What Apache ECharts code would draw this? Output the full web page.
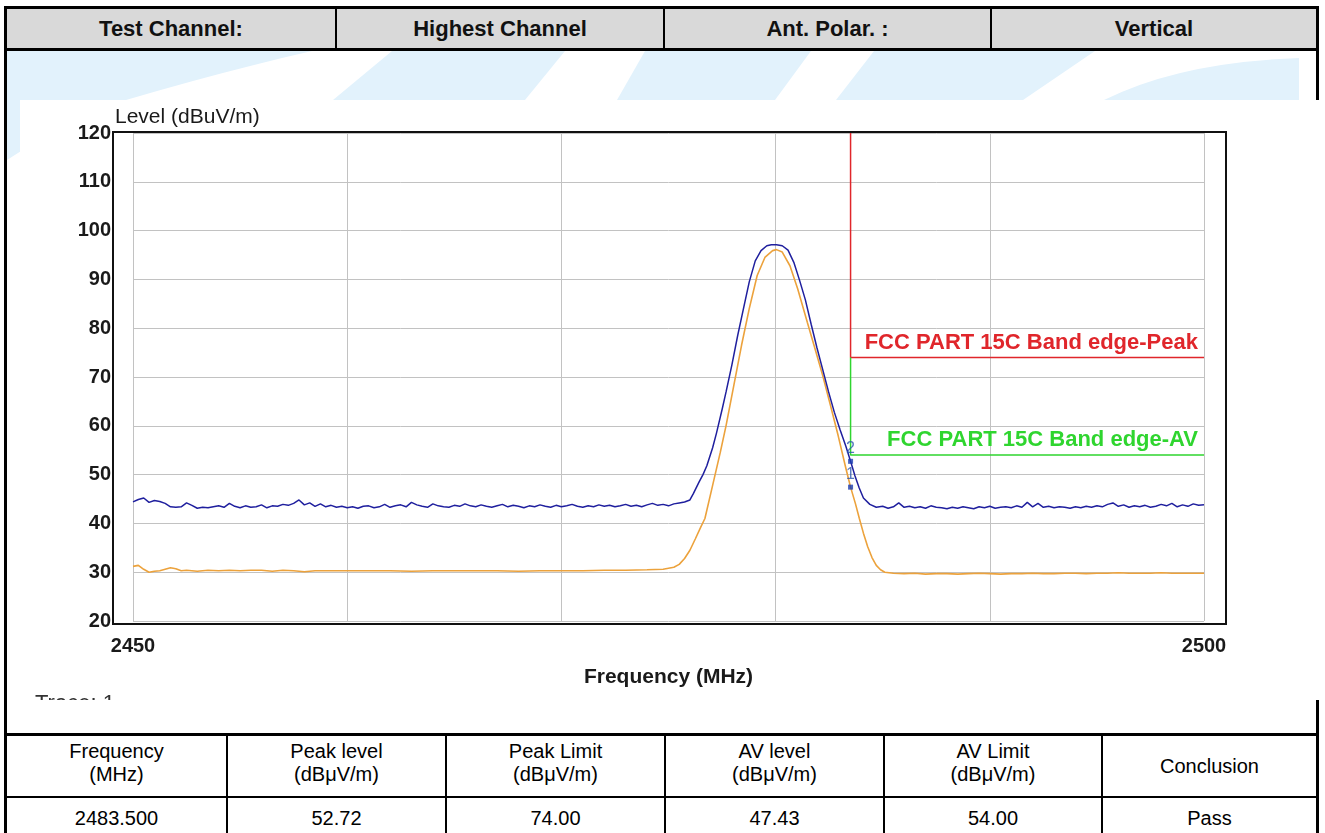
<!DOCTYPE html>
<html><head><meta charset="utf-8">
<script src="https://cdn.jsdelivr.net/npm/echarts@6/dist/echarts.min.js"></script>
<style>
html,body{margin:0;padding:0;background:#fff;}
body{width:1325px;height:833px;position:relative;overflow:hidden;font-family:"Liberation Sans",Arial,sans-serif;color:#000;}
.ln{position:absolute;background:#000;}
.hc{position:absolute;top:9px;height:39px;line-height:40px;text-align:center;font-weight:bold;font-size:22px;color:#111;}
.tc{position:absolute;text-align:center;font-size:20px;color:#000;}
#wm{position:absolute;left:0;top:0;}
#chart{position:absolute;left:20px;top:100px;width:1305px;height:600px;background:#fff;}
</style></head>
<body>
<svg id="wm" width="1325" height="833">
  <g fill="#e2f2fc">
    <path d="M7,51 L312,51 Q220,72 126,100 Q60,125 7,160 Z"/>
    <path d="M392,51 L565,51 L525,100 L333,100 Z"/>
    <path d="M645,51 L811,51 L775,100 L617,100 Z"/>
    <path d="M874,51 L1095,51 L1023,100 L836,100 Z"/>
    <path d="M1104,100 Q1180,62 1299,58 L1299,100 Z"/>
  </g>
</svg>
<div class="ln" style="left:4px;top:6px;width:1315px;height:3px"></div>
<div style="position:absolute;left:7px;top:9px;width:1309px;height:39px;background:#d9d9d9"></div>
<div class="ln" style="left:4px;top:48px;width:1315px;height:3px"></div>
<div class="ln" style="left:4px;top:6px;width:3px;height:827px"></div>
<div class="ln" style="left:1316px;top:6px;width:3px;height:827px"></div>
<div class="ln" style="left:335px;top:9px;width:2px;height:39px"></div>
<div class="ln" style="left:663px;top:9px;width:2px;height:39px"></div>
<div class="ln" style="left:990px;top:9px;width:2px;height:39px"></div>
<div id="hdr"></div>

<div id="chart"></div>

<div class="ln" style="left:4px;top:733px;width:1315px;height:3px"></div>
<div class="ln" style="left:4px;top:796px;width:1315px;height:2px"></div>
<div class="ln" style="left:226px;top:736px;width:2px;height:97px"></div>
<div class="ln" style="left:445px;top:736px;width:2px;height:97px"></div>
<div class="ln" style="left:664px;top:736px;width:2px;height:97px"></div>
<div class="ln" style="left:883px;top:736px;width:2px;height:97px"></div>
<div class="ln" style="left:1101px;top:736px;width:2px;height:97px"></div>
<div id="tbl"></div>

<script>
// ---------- data ----------
const xMin = 2450, xMax = 2500, xStep = 10;
const yMin = 20, yMax = 120, yStep = 10;
const xTickLabels = [2450, 2500];

const headerCells = ['Test Channel:', 'Highest Channel', 'Ant. Polar. :', 'Vertical'];
const resultHeads = [['Frequency','(MHz)'],['Peak level','(dBμV/m)'],['Peak Limit','(dBμV/m)'],['AV level','(dBμV/m)'],['AV Limit','(dBμV/m)'],['Conclusion']];
const resultRow = ['2483.500','52.72','74.00','47.43','54.00','Pass'];

const blueTrace = [
[2450.00,44.4],[2450.25,44.9],[2450.50,45.2],[2450.75,44.3],[2451.00,44.7],[2451.25,44.5],[2451.50,44.1],[2451.75,43.4],
[2452.00,43.3],[2452.25,43.4],[2452.50,44.2],[2452.75,43.7],[2453.00,43.1],[2453.25,43.3],[2453.50,43.2],[2453.75,43.4],
[2454.00,43.6],[2454.25,43.3],[2454.50,44.1],[2454.75,43.5],[2455.00,43.2],[2455.25,43.6],[2455.50,43.3],[2455.75,43.4],
[2456.00,43.8],[2456.25,43.2],[2456.50,43.6],[2456.75,43.5],[2457.00,43.9],[2457.25,43.7],[2457.50,44.1],[2457.75,44.8],
[2458.00,43.8],[2458.25,44.2],[2458.50,43.5],[2458.75,44.0],[2459.00,43.4],[2459.25,43.7],[2459.50,43.3],[2459.75,43.5],
[2460.00,43.2],[2460.25,43.4],[2460.50,43.1],[2460.75,43.5],[2461.00,43.6],[2461.25,43.2],[2461.50,43.4],[2461.75,43.9],
[2462.00,43.3],[2462.25,43.6],[2462.50,43.8],[2462.75,43.4],[2463.00,44.3],[2463.25,43.8],[2463.50,43.5],[2463.75,43.3],
[2464.00,44.0],[2464.25,43.6],[2464.50,43.4],[2464.75,43.3],[2465.00,43.7],[2465.25,43.5],[2465.50,44.0],[2465.75,43.6],
[2466.00,43.4],[2466.25,43.8],[2466.50,43.5],[2466.75,43.3],[2467.00,43.6],[2467.25,43.9],[2467.50,43.4],[2467.75,43.7],
[2468.00,43.5],[2468.25,43.2],[2468.50,43.6],[2468.75,43.4],[2469.00,43.8],[2469.25,43.5],[2469.50,43.3],[2469.75,43.7],
[2470.00,43.4],[2470.25,43.6],[2470.50,43.9],[2470.75,43.5],[2471.00,43.3],[2471.25,43.6],[2471.50,43.4],[2471.75,43.8],
[2472.00,43.5],[2472.25,43.7],[2472.50,43.4],[2472.75,43.6],[2473.00,43.9],[2473.25,43.5],[2473.50,43.7],[2473.75,43.4],
[2474.00,43.8],[2474.25,44.1],[2474.50,43.7],[2474.75,43.9],[2475.00,43.6],[2475.25,44.0],[2475.50,44.2],[2475.75,44.4],
[2476.00,44.8],[2476.16,46.1],[2476.43,48.5],[2476.61,50.0],[2476.79,51.8],[2477.06,55.5],[2477.24,58.5],[2477.51,63.5],
[2477.69,67.0],[2477.96,72.5],[2478.23,78.5],[2478.50,84.0],[2478.77,89.5],[2479.05,93.8],[2479.32,95.9],[2479.59,96.9],
[2479.80,97.1],[2480.04,97.1],[2480.31,96.9],[2480.58,96.0],[2480.85,93.5],[2481.12,89.8],[2481.39,85.8],[2481.66,80.8],
[2481.93,76.0],[2482.20,71.5],[2482.47,67.0],[2482.74,62.8],[2483.01,59.2],[2483.28,55.8],[2483.50,52.72],[2483.70,49.8],
[2483.90,47.3],[2484.10,45.2],[2484.40,43.9],[2484.70,43.3],
[2485.00,43.5],[2485.25,43.1],[2485.50,43.4],[2485.75,44.2],[2486.00,43.3],[2486.25,43.5],[2486.50,43.2],[2486.75,43.4],
[2487.00,43.1],[2487.25,43.6],[2487.50,43.3],[2487.75,43.2],[2488.00,43.0],[2488.25,43.3],[2488.50,43.1],[2488.75,43.4],
[2489.00,43.2],[2489.25,43.0],[2489.50,43.4],[2489.75,43.2],[2490.00,43.5],[2490.25,43.1],[2490.50,43.3],[2490.75,43.4],
[2491.00,43.2],[2491.25,43.6],[2491.50,43.3],[2491.75,44.3],[2492.00,43.4],[2492.25,44.1],[2492.50,43.3],[2492.75,43.5],
[2493.00,43.2],[2493.25,43.4],[2493.50,43.3],[2493.75,43.1],[2494.00,43.4],[2494.25,43.2],[2494.50,43.5],[2494.75,43.3],
[2495.00,43.6],[2495.25,43.4],[2495.50,43.9],[2495.75,44.2],[2496.00,43.5],[2496.25,43.8],[2496.50,43.3],[2496.75,43.6],
[2497.00,43.4],[2497.25,43.7],[2497.50,43.3],[2497.75,43.5],[2498.00,43.9],[2498.25,43.6],[2498.50,44.1],[2498.75,43.4],
[2499.00,43.8],[2499.25,43.5],[2499.50,44.0],[2499.75,43.7],[2500.00,43.8]
];

const orangeTrace = [
[2450.00,31.2],[2450.25,31.4],[2450.50,30.6],[2450.75,30.0],[2451.00,30.2],[2451.25,30.3],[2451.50,30.6],[2451.75,30.9],
[2452.00,30.7],[2452.25,30.3],[2452.50,30.4],[2453.00,30.2],[2453.50,30.4],[2454.00,30.3],[2454.50,30.4],[2455.00,30.3],
[2455.50,30.4],[2456.00,30.4],[2456.50,30.2],[2457.00,30.4],[2457.50,30.3],[2458.00,30.1],[2458.50,30.3],[2459.00,30.3],
[2460.00,30.3],[2461.00,30.3],[2462.00,30.3],[2463.00,30.2],[2464.00,30.3],[2465.00,30.3],[2466.00,30.3],[2467.00,30.3],
[2468.00,30.2],[2469.00,30.3],[2470.00,30.3],[2471.00,30.3],[2472.00,30.4],[2473.00,30.4],[2474.00,30.5],[2474.75,30.6],
[2475.00,30.8],[2475.25,31.0],[2475.50,31.6],[2475.75,32.8],[2476.00,34.5],[2476.25,36.8],[2476.50,39.2],[2476.70,41.0],
[2477.06,47.8],[2477.42,54.6],[2477.69,60.1],[2478.05,68.3],[2478.41,76.5],[2478.77,84.0],[2479.14,90.8],[2479.50,94.5],
[2479.86,95.9],[2480.04,96.1],[2480.31,95.6],[2480.67,92.8],[2481.03,88.1],[2481.48,81.2],[2481.84,75.8],[2482.20,70.3],
[2482.56,64.2],[2482.92,58.0],[2483.28,51.3],[2483.50,47.43],[2483.73,44.0],[2483.91,41.0],[2484.10,38.0],[2484.30,35.2],
[2484.50,33.0],[2484.70,31.4],[2484.90,30.5],[2485.10,30.0],[2485.50,29.8],[2486.00,29.7],[2486.50,29.8],[2487.00,29.6],
[2487.50,29.7],[2488.00,29.7],[2488.50,29.6],[2489.00,29.7],[2489.50,29.8],[2490.00,29.7],[2490.50,29.6],[2491.00,29.7],
[2491.50,29.7],[2492.00,29.8],[2492.50,29.7],[2493.00,29.7],[2493.50,29.8],[2494.00,29.8],[2494.50,29.7],[2495.00,29.8],
[2495.50,29.8],[2496.00,29.9],[2496.50,29.8],[2497.00,29.8],[2497.50,29.8],[2498.00,29.9],[2498.50,29.8],[2499.00,29.8],
[2499.50,29.8],[2500.00,29.8]
];

const peakLimitFreq  = [2483.5, 2483.5, 2500];
const peakLimitLevel = [120, 74, 74];
const avLimitFreq  = [2483.5, 2483.5, 2500];
const avLimitLevel = [74, 54, 54];
const peakLimitName = 'FCC PART 15C Band edge-Peak';
const avLimitName = 'FCC PART 15C Band edge-AV';

const markerFreq  = [2483.5, 2483.5];
const markerLevel = [52.72, 47.43];
const markerText  = ['2', '1'];

// ---------- tables ----------
(function(){
  const hl = [7, 337, 665, 992], hw = [328, 326, 325, 324];
  let h = '';
  headerCells.forEach((t, i) => { h += `<div class="hc" style="left:${hl[i]}px;width:${hw[i]}px">${t}</div>`; });
  document.getElementById('hdr').innerHTML = h;

  const lefts = [7, 228, 447, 666, 885, 1103];
  const rights = [226, 445, 664, 883, 1101, 1316];
  let html = '';
  resultHeads.forEach((hd, i) => {
    const w = rights[i] - lefts[i];
    if (hd.length === 2) {
      html += `<div class="tc" style="left:${lefts[i]}px;width:${w}px;top:740px;line-height:23px">${hd[0]}<br>${hd[1]}</div>`;
    } else {
      html += `<div class="tc" style="left:${lefts[i]}px;width:${w}px;top:736px;height:60px;line-height:60px">${hd[0]}</div>`;
    }
    html += `<div class="tc" style="left:${lefts[i]}px;width:${w}px;top:806px;line-height:24px">${resultRow[i]}</div>`;
  });
  document.getElementById('tbl').innerHTML = html;
})();

// ---------- chart ----------
const chart = echarts.init(document.getElementById('chart'), null, {renderer: 'canvas'});
const FONT = '"Liberation Sans", Arial, sans-serif';
const zip = (a, b) => a.map((v, i) => [v, b[i]]);

function limitData(fr, lv, name, color) {
  return zip(fr, lv).map((p, i) => {
    const d = {value: p};
    if (i === fr.length - 1) {
      d.label = {show: true, formatter: name, position: 'left', distance: 6, offset: [0, -15],
        color: color, fontWeight: 'bold', fontSize: 22, fontFamily: FONT};
    }
    return d;
  });
}

const option = {
  animation: false,
  grid: {left: 113, top: 33, width: 1071, height: 488, show: false},
  xAxis: {
    type: 'value', min: xMin, max: xMax, interval: xStep,
    axisLine: {show: false}, axisTick: {show: false},
    splitLine: {show: true, lineStyle: {color: '#c2c2c2', width: 1}},
    axisLabel: {formatter: v => xTickLabels.indexOf(v) >= 0 ? String(v) : '',
      fontWeight: 'bold', fontSize: 20, color: '#1a1a1a', margin: 15, fontFamily: FONT},
    name: 'Frequency (MHz)', nameLocation: 'middle', nameGap: 46,
    nameTextStyle: {fontWeight: 'bold', fontSize: 21, color: '#1a1a1a', fontFamily: FONT}
  },
  yAxis: {
    type: 'value', min: yMin, max: yMax, interval: yStep,
    axisLine: {show: false}, axisTick: {show: false},
    splitLine: {show: true, lineStyle: {color: '#c2c2c2', width: 1}},
    axisLabel: {fontWeight: 'bold', fontSize: 20, color: '#1a1a1a', margin: 22, fontFamily: FONT}
  },
  graphic: [
    {type: 'rect', z: 50, silent: true, shape: {x: 93, y: 32, width: 1113, height: 492},
     style: {fill: null, stroke: '#111', lineWidth: 2}},
    {type: 'text', z: 50, left: 95, top: 7, silent: true,
     style: {text: 'Level (dBuV/m)', font: '21px ' + FONT, fill: '#1a1a1a'}},
    {type: 'text', z: 50, left: 15, top: 593, silent: true,
     style: {text: 'Trace: 1', font: '22px ' + FONT, fill: '#333'}}
  ],
  series: [
    {type: 'line', name: 'AV', data: orangeTrace, showSymbol: false, z: 3,
     lineStyle: {color: '#eca23c', width: 1.6}},
    {type: 'line', name: 'Peak', data: blueTrace, showSymbol: false, z: 4,
     lineStyle: {color: '#1f1f9e', width: 1.5}},
    {type: 'line', name: 'Peak limit', data: limitData(peakLimitFreq, peakLimitLevel, peakLimitName, '#e0262b'),
     symbol: 'circle', symbolSize: 0, showSymbol: true, z: 5,
     lineStyle: {color: '#e0262b', width: 1.5}},
    {type: 'line', name: 'AV limit', data: limitData(avLimitFreq, avLimitLevel, avLimitName, '#2fd52f'),
     symbol: 'circle', symbolSize: 0, showSymbol: true, z: 5,
     lineStyle: {color: '#2fd52f', width: 1.5}},
    {type: 'scatter', name: 'Markers', data: zip(markerFreq, markerLevel), symbol: 'rect', symbolSize: 5, z: 6,
     itemStyle: {color: '#1a3cb0'},
     label: {show: true, position: 'top', distance: 2, formatter: p => markerText[p.dataIndex],
       color: '#2a55b0', fontSize: 16, fontFamily: FONT}}
  ]
};
chart.setOption(option);
</script>
</body></html>
